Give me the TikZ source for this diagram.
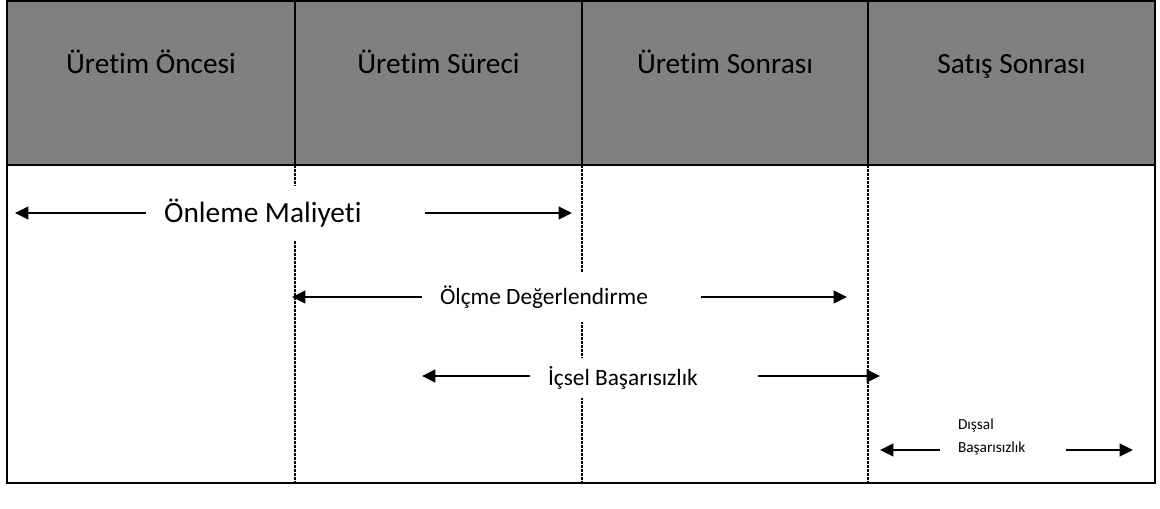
\documentclass[tikz,border=0pt]{standalone}
\usepackage{fontspec}
\setmainfont{Carlito}[Ligatures=CommonOff]
\usepackage{tikz}
\usetikzlibrary{arrows.meta,positioning}

\begin{document}
\begin{tikzpicture}[
    x=0.75pt, y=-0.75pt,
    phase/.style={draw, line width=1.5pt, fill=gray, anchor=north west, outer sep=0pt,
        minimum height=123pt, text height=15pt, text depth=30pt,
        font=\fontsize{22}{26}\selectfont},
    cost/.style={fill=white, inner xsep=13.5pt, inner ysep=0pt, align=flush left,
        font=\fontsize{17.5}{21}\selectfont},
    divider/.style={line width=1.7pt, dash pattern=on 2.2pt off 0.8pt},
    arrow/.style={-{Triangle[length=10pt,width=9.5pt]}, line width=1.6pt}
]
    \useasboundingbox (0,0) rectangle (1160,508);

    % phases
    \node[phase, minimum width=216pt] (pre) at (7,1) {Üretim Öncesi};
    \node[phase, right=0pt of pre, minimum width=215.25pt] (proc) {Üretim Süreci};
    \node[phase, right=0pt of proc, minimum width=214.5pt] (post) {Üretim Sonrası};
    \node[phase, right=0pt of post, minimum width=215.25pt] (sale) {Satış Sonrası};

    \coordinate (bot) at (1155,483);
    \draw[line width=1.5pt] (pre.north west) rectangle (bot);

    % dividers under the header
    \draw[divider] (pre.south east) -- (pre.south east |- bot);
    \draw[divider] (proc.south east) -- (proc.south east |- bot);
    \draw[divider] (post.south east) -- (post.south east |- bot);

    % cost ranges
    \node[cost, text width=182pt, minimum height=40.5pt,
        font=\fontsize{22}{26}\selectfont] (prev) at (285.5,213) {Önleme Maliyeti};
    \node[cost, text width=182.25pt, minimum height=37.5pt] (appr) at (561.5,297) {Ölçme Değerlendirme};
    \node[cost, text width=144pt, minimum height=30pt] (intf) at (644,378) {İçsel Başarısızlık};
    \node[cost, text width=67.5pt, fill=none,
        font=\fontsize{11.5}{17.3}\selectfont] (extf) at (1003,437) {Dışsal\\Başarısızlık};

    \coordinate (prevL) at (15,213);
    \coordinate (prevR) at (572,213);
    \coordinate (apprL) at (292,297);
    \coordinate (apprR) at (847,297);
    \coordinate (intfL) at (422,376);
    \coordinate (intfR) at (880,376);
    \coordinate (extfL) at (880,450);
    \coordinate (extfR) at (1133,450);

    \draw[arrow] (prev.west) -- (prevL);
    \draw[arrow] (prev.east) -- (prevR);
    \draw[arrow] (appr.west) -- (apprL);
    \draw[arrow] (appr.east) -- (apprR);
    \draw[arrow] (intf.west |- intfL) -- (intfL);
    \draw[arrow] (intf.east |- intfR) -- (intfR);
    \draw[arrow] (extf.west |- extfL) -- (extfL);
    \draw[arrow] (extf.east |- extfR) -- (extfR);
\end{tikzpicture}
\end{document}
